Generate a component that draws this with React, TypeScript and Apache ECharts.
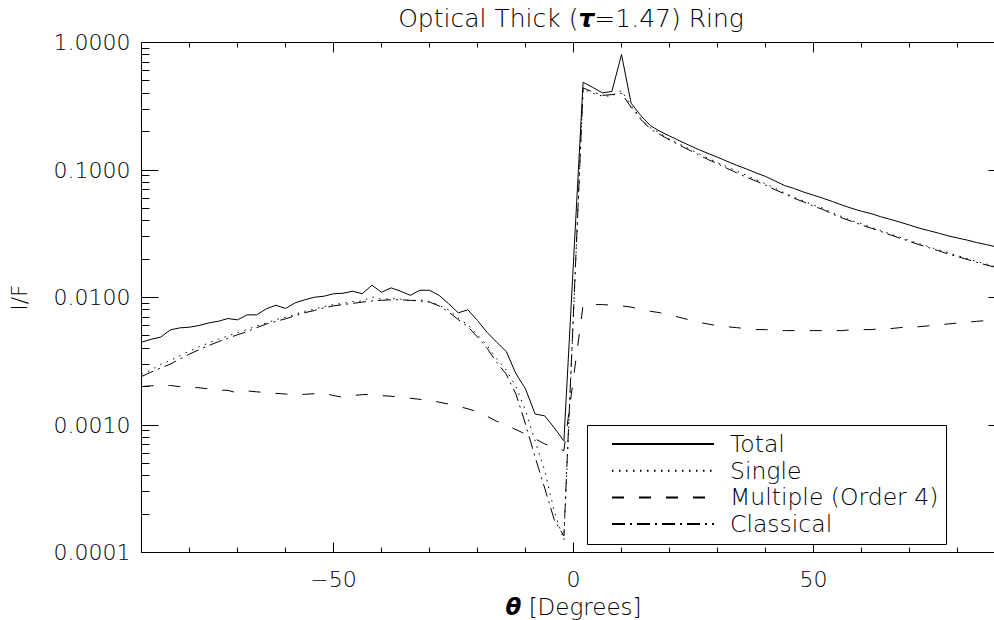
import React, { useEffect, useRef } from 'react';
import * as echarts from 'echarts';

// Scattering angle theta [degrees]
const thetaDeg = [
  -90, -88, -86, -84, -82, -80, -78, -76, -74, -72,
  -70, -68, -66, -64, -62, -60, -58, -56, -54, -52,
  -50, -48, -46, -44, -42, -40, -38, -36, -34, -32,
  -30, -28, -26, -24, -22, -20, -18, -16, -14, -12,
  -10, -8, -6, -4, -2,
  2, 4, 6, 8, 10, 12, 14, 16, 18, 20,
  22, 24, 26, 28, 30, 32, 34, 36, 38, 40,
  42, 44, 46, 48, 50, 52, 54, 56, 58, 60,
  62, 64, 66, 68, 70, 72, 74, 76, 78, 80,
  82, 84, 86, 88, 90,
];

const totalIF = [
  0.00446, 0.0047, 0.00489, 0.00557, 0.00578, 0.00585, 0.00603, 0.00632, 0.00651, 0.00684,
  0.00668, 0.00731, 0.00731, 0.00815, 0.0087, 0.0082, 0.00908, 0.00959, 0.01005, 0.01023,
  0.0107, 0.0108, 0.0112, 0.0107, 0.0125, 0.011, 0.0119, 0.0112, 0.0104, 0.0114,
  0.0114, 0.0104, 0.00893, 0.00758, 0.00801, 0.0066, 0.00533, 0.00446, 0.00377, 0.00253,
  0.00192, 0.00122, 0.00118, 0.00095, 0.00075,
  0.488, 0.445, 0.403, 0.413, 0.805, 0.334, 0.268, 0.223, 0.201, 0.185,
  0.17, 0.157, 0.145, 0.135, 0.126, 0.117, 0.109, 0.102, 0.095, 0.089,
  0.082, 0.0755, 0.0715, 0.067, 0.0635, 0.06, 0.0565, 0.053, 0.05, 0.0475,
  0.0455, 0.043, 0.041, 0.039, 0.037, 0.035, 0.0335, 0.032, 0.0305, 0.0293,
  0.0282, 0.027, 0.026, 0.025, 0.024,
];

const singleIF = [
  0.0025, 0.0027, 0.003, 0.0032, 0.0035, 0.0038, 0.0041, 0.0044, 0.0047, 0.005,
  0.0053, 0.0056, 0.006, 0.0063, 0.0067, 0.007, 0.0074, 0.0078, 0.0081, 0.0085,
  0.0088, 0.009, 0.0093, 0.0094, 0.0101, 0.0097, 0.0098, 0.0097, 0.0094, 0.0096,
  0.0093, 0.0087, 0.008, 0.0069, 0.0061, 0.0051, 0.0042, 0.0033, 0.0027, 0.002,
  0.0013, 0.00075, 0.00044, 0.00021, 0.000125,
  0.43, 0.4, 0.38, 0.38, 0.42, 0.32, 0.255, 0.215, 0.195, 0.175,
  0.16, 0.147, 0.135, 0.124, 0.114, 0.106, 0.098, 0.091, 0.084, 0.078,
  0.072, 0.066, 0.061, 0.057, 0.053, 0.05, 0.046, 0.043, 0.04, 0.038,
  0.0355, 0.0335, 0.0315, 0.0297, 0.028, 0.0264, 0.025, 0.0237, 0.0225, 0.0213,
  0.0202, 0.0192, 0.0183, 0.0175, 0.0167,
];

const multipleIF = [
  0.002, 0.00203, 0.00204, 0.00204, 0.002, 0.00197, 0.00196, 0.00192, 0.00188, 0.00187,
  0.00178, 0.00185, 0.00182, 0.0018, 0.00177, 0.00175, 0.00173, 0.00174, 0.00176, 0.00178,
  0.0017, 0.00165, 0.0017, 0.00173, 0.00174, 0.0017, 0.00168, 0.00165, 0.00162, 0.00159,
  0.00156, 0.00151, 0.00146, 0.0014, 0.00134, 0.00127, 0.00117, 0.00107, 0.001, 0.00092,
  0.00085, 0.00078, 0.00071, 0.00067, 0.00063,
  0.0087, 0.0088, 0.0088, 0.0087, 0.0086, 0.0084, 0.0081, 0.0078, 0.0076, 0.0073,
  0.007, 0.0067, 0.0064, 0.0062, 0.006, 0.0059, 0.0058, 0.0057, 0.0056, 0.0056,
  0.0055, 0.0055, 0.0055, 0.0055, 0.0055, 0.0055, 0.0055, 0.0055, 0.0056, 0.0056,
  0.0056, 0.0057, 0.0057, 0.0058, 0.0059, 0.0059, 0.006, 0.0061, 0.0062, 0.0063,
  0.0064, 0.0065, 0.0066, 0.0067, 0.0068,
];

const classicalIF = [
  0.0024, 0.0026, 0.0028, 0.003, 0.0033, 0.0036, 0.0039, 0.0042, 0.0045, 0.0048,
  0.0051, 0.0054, 0.0058, 0.0062, 0.0065, 0.0068, 0.0072, 0.0076, 0.0079, 0.0083,
  0.0086, 0.0088, 0.009, 0.0092, 0.0094, 0.0095, 0.0096, 0.0096, 0.0095, 0.0094,
  0.0092, 0.0086, 0.0077, 0.0067, 0.0059, 0.0049, 0.004, 0.0031, 0.0025, 0.00175,
  0.00102, 0.00056, 0.00032, 0.00018, 0.000135,
  0.44, 0.41, 0.385, 0.39, 0.4, 0.31, 0.25, 0.21, 0.19, 0.172,
  0.157, 0.144, 0.132, 0.121, 0.112, 0.103, 0.095, 0.088, 0.082, 0.076,
  0.07, 0.065, 0.06, 0.056, 0.052, 0.049, 0.045, 0.042, 0.0395, 0.037,
  0.035, 0.033, 0.031, 0.0292, 0.0275, 0.026, 0.0246, 0.0233, 0.022, 0.0209,
  0.0199, 0.0189, 0.018, 0.0172, 0.0164,
];

const seriesNames = ['Total', 'Single', 'Multiple (Order 4)', 'Classical'];

const X_MIN = -90;
const X_MAX = 90;
const Y_MIN = 0.0001;
const Y_MAX = 1;

const xMajorTicks = [-50, 0, 50];
const xMinorTicks = [-80, -70, -60, -40, -30, -20, -10, 10, 20, 30, 40, 60, 70, 80];
const yMajorTicks = [0.0001, 0.001, 0.01, 0.1, 1];
const yMinorTicks = [
  0.0002, 0.0003, 0.0004, 0.0005, 0.0006, 0.0007, 0.0008, 0.0009,
  0.002, 0.003, 0.004, 0.005, 0.006, 0.007, 0.008, 0.009,
  0.02, 0.03, 0.04, 0.05, 0.06, 0.07, 0.08, 0.09,
  0.2, 0.3, 0.4, 0.5, 0.6, 0.7, 0.8, 0.9,
];

const FONT = 'DejaVu Sans';
const FS = 22;
const FW = 200;

const X_MAJOR_LEN = 10;
const X_MINOR_LEN = 5;
const Y_MAJOR_LEN = 17;
const Y_MINOR_LEN = 8;

const crisp = (v: number) => Math.round(v - 0.5) + 0.5;

export default function App() {
  const ref = useRef<HTMLDivElement>(null);

  useEffect(() => {
    if (!ref.current) return;
    const chart = echarts.init(ref.current, null, { renderer: 'svg' });
    const zip = (ys: number[]) => thetaDeg.map((x, i) => [x, ys[i]]);
    const black = '#000';
    const txt = { fontFamily: FONT, fontSize: FS, fontWeight: FW, color: black };

    const dashes: any[] = ['solid', [1.5, 5.5], [12, 15], [13, 5, 2, 5]];
    const values = [totalIF, singleIF, multipleIF, classicalIF];

    const lineSeries = seriesNames.map((name, i) => ({
      name,
      type: 'line',
      data: zip(values[i]),
      symbol: 'none',
      showSymbol: false,
      itemStyle: { color: black },
      lineStyle: { color: black, width: 1, type: dashes[i] },
      z: 2,
    }));

    const xTicks = [
      ...xMajorTicks.map((v) => ({ v, len: X_MAJOR_LEN })),
      ...xMinorTicks.map((v) => ({ v, len: X_MINOR_LEN })),
    ];
    const yTicks = [
      ...yMajorTicks.map((v) => ({ v, len: Y_MAJOR_LEN })),
      ...yMinorTicks.map((v) => ({ v, len: Y_MINOR_LEN })),
    ];

    // one custom series per frame side; every tick is placed through the axis scales
    const tickSeries = (side: 'bottom' | 'top' | 'left' | 'right') => {
      const isX = side === 'bottom' || side === 'top';
      const list = isX ? xTicks : yTicks;
      const data = list.map((t) =>
        side === 'bottom' ? [t.v, Y_MIN, t.len]
          : side === 'top' ? [t.v, Y_MAX, t.len]
          : side === 'left' ? [X_MIN, t.v, t.len]
          : [X_MAX, t.v, t.len]
      );
      return {
        type: 'custom',
        silent: true,
        z: 5,
        data,
        encode: { x: 0, y: 1 },
        renderItem: (_p: any, api: any) => {
          const p = api.coord([api.value(0), api.value(1)]);
          const len = api.value(2);
          let shape;
          if (side === 'bottom') {
            const x = crisp(p[0]);
            shape = { x1: x, y1: p[1], x2: x, y2: p[1] - len };
          } else if (side === 'top') {
            const x = crisp(p[0]);
            shape = { x1: x, y1: p[1], x2: x, y2: p[1] + len };
          } else if (side === 'left') {
            const y = crisp(p[1]);
            shape = { x1: p[0], y1: y, x2: p[0] + len, y2: y };
          } else {
            const y = crisp(p[1]);
            shape = { x1: p[0] - len, y1: y, x2: p[0], y2: y };
          }
          return { type: 'line', shape, style: { stroke: black, lineWidth: 1 } };
        },
      };
    };

    chart.setOption({
      animation: false,
      grid: {
        left: 141.5,
        top: 42.5,
        width: 864,
        height: 510,
        show: true,
        borderColor: black,
        borderWidth: 1,
        outerBoundsMode: 'none',
      },
      xAxis: {
        type: 'value',
        min: X_MIN,
        max: X_MAX,
        splitLine: { show: false },
        axisLine: { show: false, onZero: false },
        axisTick: { show: false },
        axisLabel: {
          ...txt,
          margin: 16,
          customValues: xMajorTicks,
          formatter: (v: number) => (v < 0 ? '\u2212' + Math.abs(v) : String(v)),
        },
        name: '{i|\u03b8} [Degrees]',
        nameLocation: 'middle',
        nameGap: 42,
        nameTextStyle: {
          ...txt,
          fontSize: 23,
          rich: {
            i: { fontFamily: FONT, fontSize: 23, fontStyle: 'italic', fontWeight: 'bold', color: black },
          },
        },
      },
      yAxis: {
        type: 'log',
        logBase: 10,
        min: Y_MIN,
        max: Y_MAX,
        splitLine: { show: false },
        axisLine: { show: false, onZero: false },
        axisTick: { show: false },
        axisLabel: { ...txt, margin: 11, formatter: (v: number) => Number(v).toFixed(4) },
        name: 'I/F',
        nameLocation: 'middle',
        nameRotate: 90,
        nameGap: 111,
        nameTextStyle: { ...txt },
      },
      legend: {
        orient: 'vertical',
        left: 611,
        top: 432,
        padding: 0,
        itemWidth: 102,
        itemHeight: 14,
        itemGap: 2.7,
        z: 20,
        selectedMode: false,
        data: seriesNames,
        itemStyle: { opacity: 0 },
        textStyle: { ...txt, fontSize: 23.5, lineHeight: 22, padding: [0, 0, 0, 11] },
      },
      graphic: [
        {
          type: 'rect',
          z: 10,
          shape: { x: 587.5, y: 425.5, width: 359, height: 119 },
          style: { fill: '#fff', stroke: black, lineWidth: 1 },
        },
        {
          type: 'text',
          z: 10,
          x: 571,
          y: 18,
          style: {
            text: '{a|Optical Thick (}{t|\u03c4}{a|=1.47) Ring}',
            align: 'center',
            verticalAlign: 'middle',
            fill: black,
            fontFamily: FONT,
            fontSize: 25,
            fontWeight: FW,
            rich: {
              a: { fontFamily: FONT, fontSize: 25, fontWeight: FW, fill: black, color: black },
              t: { fontFamily: FONT, fontSize: 25, fontWeight: 'bold', fontStyle: 'italic', fill: black, color: black },
            },
          },
        },
      ],
      series: [...lineSeries, tickSeries('bottom'), tickSeries('top'), tickSeries('left'), tickSeries('right')],
    });

    return () => chart.dispose();
  }, []);

  return <div ref={ref} style={{ position: 'absolute', left: 0, top: 0, width: 994, height: 620 }} />;
}
